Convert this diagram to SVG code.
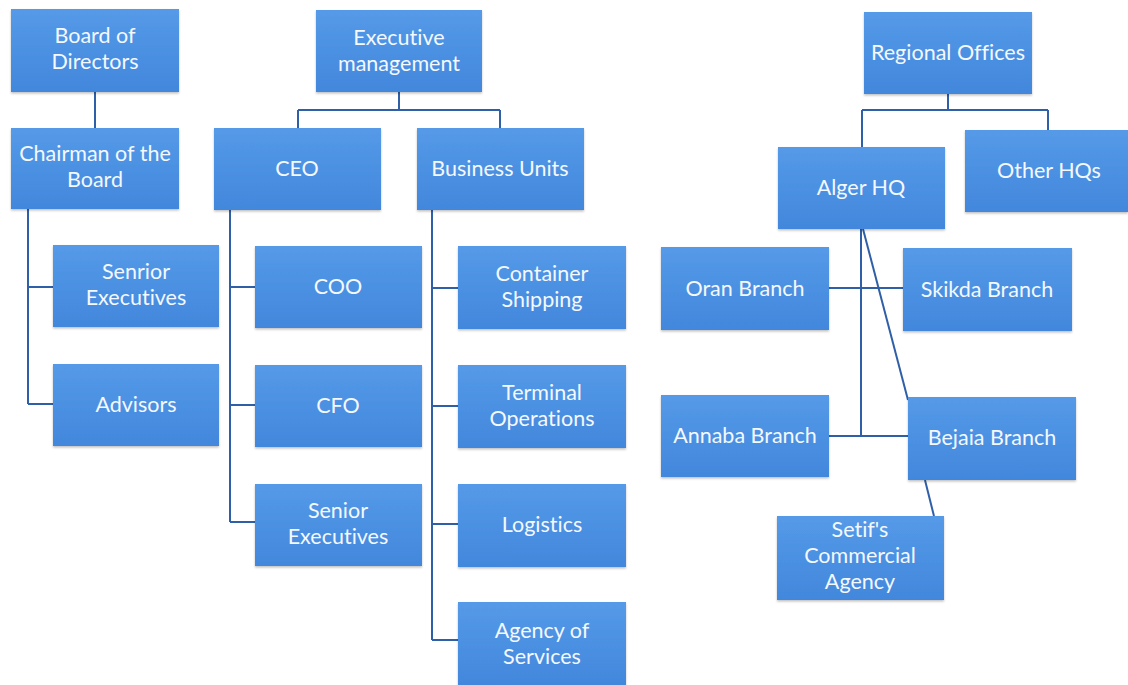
<svg xmlns="http://www.w3.org/2000/svg" width="1128" height="685" viewBox="0 0 1128 685">
  <defs>
    <linearGradient id="boxFill" x1="0" y1="0" x2="0" y2="1">
      <stop offset="0" stop-color="#559ae8"/>
      <stop offset="1" stop-color="#4287dc"/>
    </linearGradient>
    <filter id="shadow" x="-5%" y="-5%" width="110%" height="115%">
      <feDropShadow dx="0" dy="1.5" stdDeviation="1.2" flood-color="#000" flood-opacity="0.25"/>
    </filter>
  </defs>
  <style>
    .box { fill: url(#boxFill); filter: url(#shadow); }
    .lbl { font-family: Lato, "Open Sans", "Liberation Sans", sans-serif; font-size: 21.5px; fill: #f4f8ff; text-anchor: middle; font-variant-ligatures: none; }
    .conn { fill: none; stroke: #2f5fa6; stroke-width: 2; }
  </style>
  <rect width="1128" height="685" fill="#ffffff"/>

  <!-- connectors -->
  <g id="connectors" class="conn">
    <path d="M95 92 V128"/>
    <path d="M399 92 V110 M298 110 H500 M298 110 V128 M500 110 V128"/>
    <path d="M28 209 V404 M28 287 H53 M28 404 H53"/>
    <path d="M230 210 V522 M230 287 H255 M230 405 H255 M230 522 H255"/>
    <path d="M432 210 V640 M432 288 H458 M432 406 H458 M432 524 H458 M432 640 H458"/>
    <path d="M948 94 V110 M862 110 H1048 M862 110 V147 M1048 110 V130"/>
    <path d="M861 229 V437 M829 288 H903 M829 436 H908"/>
    <path d="M863 229 L908 400"/>
    <path d="M925 480 L934 516"/>
  </g>

  <!-- left column -->
  <g id="board">
    <rect class="box" x="11" y="9" width="168" height="83"/>
    <text class="lbl" x="95" y="43">Board of</text>
    <text class="lbl" x="95" y="69">Directors</text>
  </g>
  <g id="chairman">
    <rect class="box" x="11" y="128" width="168" height="81"/>
    <text class="lbl" x="95" y="161">Chairman of the</text>
    <text class="lbl" x="95" y="187">Board</text>
  </g>
  <g id="senior-exec-board">
    <rect class="box" x="53" y="245" width="166" height="82"/>
    <text class="lbl" x="136" y="279">Senrior</text>
    <text class="lbl" x="136" y="305">Executives</text>
  </g>
  <g id="advisors">
    <rect class="box" x="53" y="364" width="166" height="82"/>
    <text class="lbl" x="136" y="412">Advisors</text>
  </g>

  <!-- executive management -->
  <g id="exec-mgmt">
    <rect class="box" x="316" y="10" width="166" height="82"/>
    <text class="lbl" x="399" y="45">Executive</text>
    <text class="lbl" x="399" y="71">management</text>
  </g>
  <g id="ceo">
    <rect class="box" x="214" y="128" width="167" height="82"/>
    <text class="lbl" x="297" y="176">CEO</text>
  </g>
  <g id="coo">
    <rect class="box" x="255" y="246" width="167" height="82"/>
    <text class="lbl" x="338" y="294">COO</text>
  </g>
  <g id="cfo">
    <rect class="box" x="255" y="365" width="167" height="82"/>
    <text class="lbl" x="338" y="413">CFO</text>
  </g>
  <g id="senior-exec-ceo">
    <rect class="box" x="255" y="484" width="167" height="82"/>
    <text class="lbl" x="338" y="518">Senior</text>
    <text class="lbl" x="338" y="544">Executives</text>
  </g>

  <g id="business-units">
    <rect class="box" x="417" y="128" width="167" height="82"/>
    <text class="lbl" x="500" y="176">Business Units</text>
  </g>
  <g id="container-shipping">
    <rect class="box" x="458" y="246" width="168" height="83"/>
    <text class="lbl" x="542" y="281">Container</text>
    <text class="lbl" x="542" y="307">Shipping</text>
  </g>
  <g id="terminal-operations">
    <rect class="box" x="458" y="365" width="168" height="83"/>
    <text class="lbl" x="542" y="400">Terminal</text>
    <text class="lbl" x="542" y="426">Operations</text>
  </g>
  <g id="logistics">
    <rect class="box" x="458" y="484" width="168" height="83"/>
    <text class="lbl" x="542" y="532">Logistics</text>
  </g>
  <g id="agency-services">
    <rect class="box" x="458" y="602" width="168" height="83"/>
    <text class="lbl" x="542" y="638">Agency of</text>
    <text class="lbl" x="542" y="664">Services</text>
  </g>

  <!-- regional network -->
  <g id="regional-offices">
    <rect class="box" x="864" y="12" width="168" height="82"/>
    <text class="lbl" x="948" y="60">Regional Offices</text>
  </g>
  <g id="alger-hq">
    <rect class="box" x="778" y="147" width="167" height="82"/>
    <text class="lbl" x="861" y="195">Alger HQ</text>
  </g>
  <g id="other-hqs">
    <rect class="box" x="965" y="130" width="163" height="82"/>
    <text class="lbl" x="1049" y="178">Other HQs</text>
  </g>
  <g id="oran">
    <rect class="box" x="661" y="247" width="168" height="83"/>
    <text class="lbl" x="745" y="296">Oran Branch</text>
  </g>
  <g id="skikda">
    <rect class="box" x="903" y="248" width="169" height="83"/>
    <text class="lbl" x="987" y="297">Skikda Branch</text>
  </g>
  <g id="annaba">
    <rect class="box" x="661" y="395" width="168" height="82"/>
    <text class="lbl" x="745" y="443">Annaba Branch</text>
  </g>
  <g id="bejaia">
    <rect class="box" x="908" y="397" width="168" height="83"/>
    <text class="lbl" x="992" y="445">Bejaia Branch</text>
  </g>
  <g id="setif">
    <rect class="box" x="777" y="516" width="167" height="84"/>
    <text class="lbl" x="860" y="537">Setif's</text>
    <text class="lbl" x="860" y="563">Commercial</text>
    <text class="lbl" x="860" y="589">Agency</text>
  </g>
</svg>
